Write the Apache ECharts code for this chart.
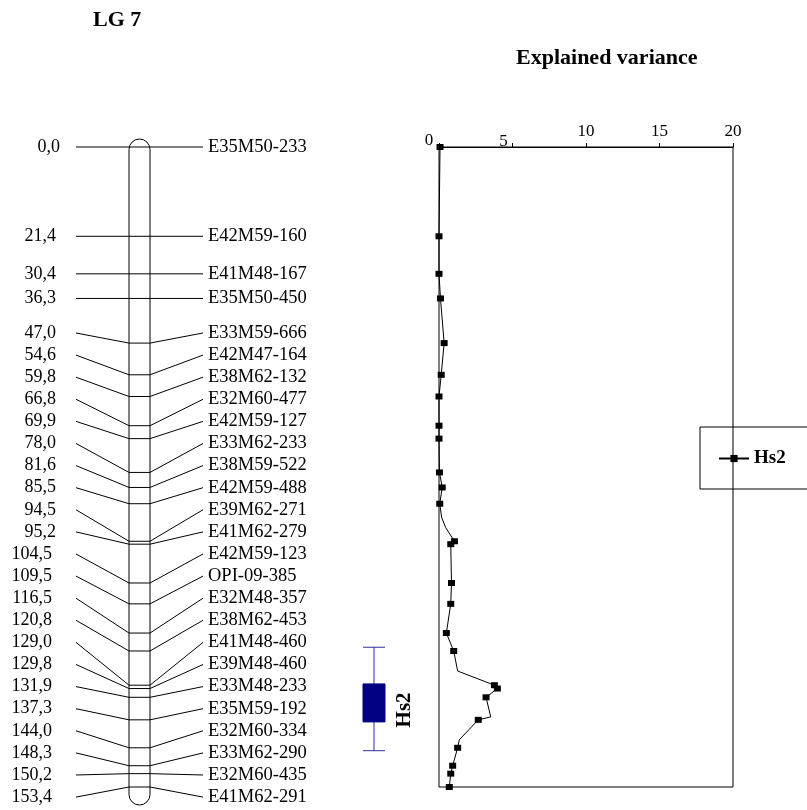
<!DOCTYPE html>
<html>
<head>
<meta charset="utf-8">
<title>LG 7</title>
<script src="https://cdn.jsdelivr.net/npm/echarts@6/dist/echarts.min.js"></script>
<style>
  html, body { margin: 0; padding: 0; background: #fff; }
  #main { width: 807px; height: 810px; }
</style>
</head>
<body>
<div id="main"></div>
<script>
// linkage group 7: marker positions (cM) and names
const positions = [0.0, 21.4, 30.4, 36.3, 47.0, 54.6, 59.8, 66.8, 69.9, 78.0, 81.6, 85.5, 94.5,
  95.2, 104.5, 109.5, 116.5, 120.8, 129.0, 129.8, 131.9, 137.3, 144.0, 148.3, 150.2, 153.4];
const markers = ['E35M50-233', 'E42M59-160', 'E41M48-167', 'E35M50-450', 'E33M59-666', 'E42M47-164',
  'E38M62-132', 'E32M60-477', 'E42M59-127', 'E33M62-233', 'E38M59-522', 'E42M59-488', 'E39M62-271',
  'E41M62-279', 'E42M59-123', 'OPI-09-385', 'E32M48-357', 'E38M62-453', 'E41M48-460', 'E39M48-460',
  'E33M48-233', 'E35M59-192', 'E32M60-334', 'E33M62-290', 'E32M60-435', 'E41M62-291'];
// explained variance (%) at each marker
const variance = [0.07, 0, 0, 0.1, 0.35, 0.15, 0, 0, 0, 0.03, 0.22, 0.05, 1.05,
  0.8, 0.85, 0.8, 0.5, 1.0, 3.77, 3.97, 3.2, 2.67, 1.27, 0.93, 0.8, 0.7];
// profile points between markers where the curve bends (no symbol)
const bendPositions = [88.8, 91.2, 125.6, 136.6, 142.1];
const bendVariance = [0.18, 0.45, 1.27, 3.52, 1.38];
// QTL interval: whisker low, box low, box high, whisker high (cM)
const qtlName = 'Hs2';
const qtlInterval = [119.9, 128.7, 137.8, 144.7];
const varianceMax = 20;
const varianceStep = 5;

const FONT = '"Liberation Serif", "Times New Roman", serif';
const GRID_TOP = 147;
const GRID_BOTTOM = 23;
const posMax = positions[positions.length - 1];
const pxPerCM = (810 - GRID_TOP - GRID_BOTTOM) / posMax;
const labelGap = 22.1 / pxPerCM;

// map x layout (pixels, the map grid x axis runs 0..807)
const LINE_L = 76;
const BAR_L = 129;
const BAR_R = 150;
const LINE_R = 203;
const NAME_X = 208;

// spread labels that would overlap, centering each cluster on its markers
function spreadLabels(pos, gap) {
  const clusters = pos.map((p, i) => ({ from: i, to: i }));
  const place = (c) => {
    const n = c.to - c.from + 1;
    const mid = (pos[c.from] + pos[c.to]) / 2;
    c.first = mid - (n - 1) / 2 * gap;
    c.last = c.first + (n - 1) * gap;
  };
  clusters.forEach(place);
  let merged = true;
  while (merged) {
    merged = false;
    for (let i = 0; i + 1 < clusters.length; i++) {
      if (clusters[i].last + gap > clusters[i + 1].first + 1e-9) {
        clusters[i].to = clusters[i + 1].to;
        clusters.splice(i + 1, 1);
        place(clusters[i]);
        merged = true;
        break;
      }
    }
  }
  const out = [];
  clusters.forEach((c) => {
    for (let i = c.from; i <= c.to; i++) out.push(c.first + (i - c.from) * gap);
  });
  return out;
}

const labelPos = spreadLabels(positions, labelGap);
const posLabel = (p) => p.toFixed(1).replace('.', ',');

const profile = positions.map((p, i) => ({ value: [variance[i], p] }))
  .concat(bendPositions.map((p, i) => ({ value: [bendVariance[i], p], symbol: 'none' })))
  .sort((a, b) => a.value[1] - b.value[1]);

const chart = echarts.init(document.getElementById('main'));

const option = {
  backgroundColor: '#fff',
  animation: false,
  title: [
    {
      text: 'LG 7', left: 93, top: 9, padding: 0,
      textStyle: { fontFamily: FONT, fontWeight: 'bold', fontSize: 22, color: '#000' },
    },
    {
      text: 'Explained variance', left: 516, top: 47, padding: 0,
      textStyle: { fontFamily: FONT, fontWeight: 'bold', fontSize: 22, color: '#000' },
    },
  ],
  legend: {
    data: [qtlName],
    left: 700,
    top: 427,
    orient: 'vertical',
    borderColor: '#000',
    borderWidth: 1,
    borderRadius: 0,
    padding: [22, 40, 21, 18],
    itemWidth: 30,
    itemHeight: 9,
    itemGap: 0,
    selectedMode: false,
    textStyle: { fontFamily: FONT, fontWeight: 'bold', fontSize: 19, color: '#000' },
  },
  grid: [
    { left: 0, right: 0, top: GRID_TOP, bottom: GRID_BOTTOM, show: false },
    {
      left: 439, right: 74, top: GRID_TOP, bottom: GRID_BOTTOM,
      show: true, borderColor: '#000', borderWidth: 1, backgroundColor: 'transparent',
    },
  ],
  xAxis: [
    { gridIndex: 0, type: 'value', min: 0, max: 807, show: false },
    {
      gridIndex: 1,
      type: 'value',
      position: 'top',
      min: 0,
      max: varianceMax,
      interval: varianceStep,
      axisLine: { show: true, lineStyle: { color: '#000', width: 1 } },
      axisTick: { show: true, length: 4, lineStyle: { color: '#000' } },
      splitLine: { show: false },
      axisLabel: {
        margin: -4,
        color: '#000',
        fontFamily: FONT,
        fontSize: 17,
        formatter: (v) => (v === 0 ? '{z|0}' : v === 5 ? '{f|5}' : '{n|' + v + '}'),
        rich: {
          n: { fontFamily: FONT, fontSize: 17, color: '#000', padding: [0, 0, 11, 0] },
          f: { fontFamily: FONT, fontSize: 17, color: '#000', padding: [0, 18, 1, 0] },
          z: { fontFamily: FONT, fontSize: 17, color: '#000', padding: [0, 20, 2, 0] },
        },
      },
    },
  ],
  yAxis: [
    { gridIndex: 0, type: 'value', inverse: true, min: 0, max: posMax, show: false },
    { gridIndex: 1, type: 'value', inverse: true, min: 0, max: posMax, show: false },
  ],
  series: [
    {
      // chromosome bar
      type: 'custom',
      xAxisIndex: 0,
      yAxisIndex: 0,
      z: 1,
      silent: true,
      data: [[-8 / pxPerCM, posMax + 18 / pxPerCM]],
      renderItem: (params, api) => {
        const top = api.coord([BAR_L, api.value(0)]);
        const bottom = api.coord([BAR_R, api.value(1)]);
        return {
          type: 'rect',
          shape: {
            x: top[0], y: top[1], width: bottom[0] - top[0], height: bottom[1] - top[1],
            r: (bottom[0] - top[0]) / 2,
          },
          style: { fill: '#fff', stroke: '#000', lineWidth: 1 },
        };
      },
    },
    {
      // markers: connectors and labels
      type: 'custom',
      xAxisIndex: 0,
      yAxisIndex: 0,
      z: 2,
      silent: true,
      data: positions.map((p, i) => [p, labelPos[i]]),
      renderItem: (params, api) => {
        const i = params.dataIndex;
        const p = api.value(0);
        const lp = api.value(1);
        const a = api.coord([LINE_L, lp]);
        const b = api.coord([BAR_L, p]);
        const c = api.coord([BAR_R, p]);
        const d = api.coord([LINE_R, lp]);
        const txt = posLabel(positions[i]);
        return {
          type: 'group',
          children: [
            {
              type: 'polyline',
              shape: { points: [a, b, c, d] },
              style: { stroke: '#000', lineWidth: 1, fill: null },
            },
            {
              type: 'text',
              style: {
                text: txt, x: 72 - 4 * txt.length, y: a[1], align: 'right', verticalAlign: 'middle',
                font: '18px ' + FONT, fill: '#000',
              },
            },
            {
              type: 'text',
              style: {
                text: markers[i], x: NAME_X, y: d[1], align: 'left', verticalAlign: 'middle',
                font: '18.5px ' + FONT, fill: '#000',
              },
            },
          ],
        };
      },
    },
    {
      // QTL box and whiskers
      type: 'custom',
      xAxisIndex: 0,
      yAxisIndex: 0,
      z: 2,
      silent: true,
      data: [qtlInterval],
      renderItem: (params, api) => {
        const xl = 363;
        const xr = 385;
        const xm = (xl + xr) / 2;
        const w0 = api.coord([xm, api.value(0)]);
        const b0 = api.coord([xl, api.value(1)]);
        const b1 = api.coord([xr, api.value(2)]);
        const w1 = api.coord([xm, api.value(3)]);
        const mid = (b0[1] + b1[1]) / 2;
        const whisker = { stroke: '#2e2e9a', lineWidth: 1 };
        return {
          type: 'group',
          children: [
            { type: 'line', shape: { x1: xm, y1: w0[1], x2: xm, y2: w1[1] }, style: whisker },
            { type: 'line', shape: { x1: xl, y1: w0[1], x2: xr, y2: w0[1] }, style: whisker },
            { type: 'line', shape: { x1: xl, y1: w1[1], x2: xr, y2: w1[1] }, style: whisker },
            {
              type: 'rect',
              shape: { x: xl, y: b0[1], width: xr - xl, height: b1[1] - b0[1] },
              style: { fill: '#000080', stroke: '#000080', lineWidth: 1 },
            },
            {
              type: 'text',
              x: 405,
              y: mid + 7,
              rotation: Math.PI / 2,
              style: {
                text: qtlName, align: 'center', verticalAlign: 'middle',
                font: 'bold 21px ' + FONT, fill: '#000',
              },
            },
          ],
        };
      },
    },
    {
      name: qtlName,
      type: 'line',
      xAxisIndex: 1,
      yAxisIndex: 1,
      z: 3,
      clip: false,
      symbol: 'rect',
      symbolSize: [7, 6],
      itemStyle: { color: '#000' },
      lineStyle: { color: '#000', width: 1 },
      data: profile,
    },
  ],
};

chart.setOption(option);
</script>
</body>
</html>
